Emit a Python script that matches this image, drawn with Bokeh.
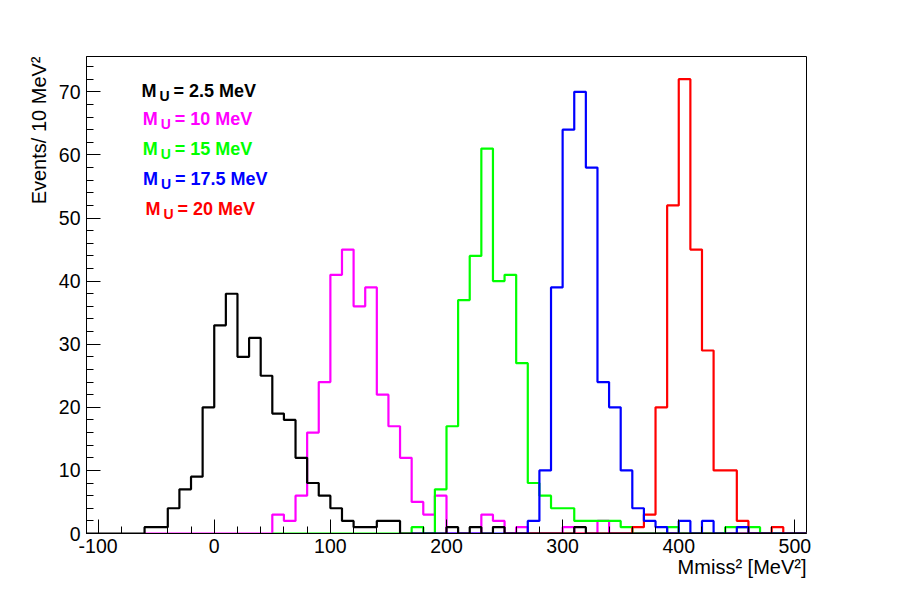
import numpy as np
from bokeh.plotting import figure
from bokeh.models import FixedTicker, Label, Title, Range1d
from bokeh.embed import file_html
from bokeh.resources import INLINE

# ---------------- data (counts per 10 MeV^2 bin) ----------------
bin_width = 10
x_lo, x_hi = -110, 510

legend_values = ["2.5 MeV", "10 MeV", "15 MeV", "17.5 MeV", "20 MeV"]

# first bin lower edge of the listed counts
black_first = -60
black_counts = [1, 1, 4, 7, 9, 20, 33, 38, 28, 31,
                25, 19, 18, 12, 8, 6, 4, 2, 1, 1,
                2, 2, 0, 0, 0, 0, 1, 0, 1, 0,
                1, 0, 0, 0, 0, 0, 0, 1]

magenta_first = 50
magenta_counts = [3, 2, 6, 16, 24, 41, 45, 36, 39, 22,
                  17, 12, 5, 3, 6, 0, 0, 0, 3, 2,
                  0, 1, 0, 0, 0, 1, 0, 0, 2]

green_first = 170
green_counts = [1, 0, 7, 17, 37, 44, 61, 40, 41, 27,
                8, 6, 4, 4, 2, 2, 2, 2, 1, 0,
                0, 0, 1, 0, 0, 0, 0, 1, 1, 1]

blue_first = 270
blue_counts = [2, 10, 39, 64, 70, 58, 24, 20, 10, 4,
               2, 1, 0, 2, 0, 2, 0, 0, 1]

red_first = 360
red_counts = [1, 3, 20, 52, 72, 45, 29, 10, 10, 2,
              0, 0, 1]

# lower edge from which each histogram line is drawn (zero bins before data)
draw_from = {"black": -110, "magenta": -60, "green": 50, "blue": 170, "red": 250}

x_major = [-100, 0, 100, 200, 300, 400, 500]
x_major_labels = ["-100", "0", "100", "200", "300", "400", "500"]
y_major = [0, 10, 20, 30, 40, 50, 60, 70]

# ---------------- figure ----------------
y_top = 72 * 1.05

p = figure(width=892, height=590,
           x_range=Range1d(x_lo, x_hi), y_range=Range1d(0, y_top),
           output_backend="svg", toolbar_location=None,
           min_border_left=86, min_border_right=86,
           min_border_top=56, min_border_bottom=57)
p.title.visible = False
p.background_fill_color = "white"
p.border_fill_color = "white"
p.outline_line_color = "black"
p.outline_line_width = 1
p.outline_line_alpha = 1.0
p.xgrid.visible = False
p.ygrid.visible = False

FONT = "Liberation Sans"


def hist_arrays(first, counts, start):
    n_bins = int(round((x_hi - start) / bin_width))
    edges = start + bin_width * np.arange(n_bins + 1)
    vals = np.zeros(n_bins + 1)
    i0 = int(round((first - start) / bin_width))
    vals[i0:i0 + len(counts)] = counts
    return edges, vals


order = [("magenta", magenta_first, magenta_counts, "#ff00ff"),
         ("green", green_first, green_counts, "#00ff00"),
         ("red", red_first, red_counts, "#ff0000"),
         ("blue", blue_first, blue_counts, "#0000ff"),
         ("black", black_first, black_counts, "#000000")]

for name, first, counts, col in order:
    ex, vy = hist_arrays(first, counts, draw_from[name])
    p.step(x=ex, y=vy, mode="after", line_color=col, line_width=2.2)

# ---------------- axes ----------------
p.xaxis.ticker = FixedTicker(ticks=x_major, minor_ticks=list(range(-100, 501, 20)))
p.xaxis.major_label_overrides = {v: s for v, s in zip(x_major, x_major_labels)}
p.yaxis.ticker = FixedTicker(ticks=y_major, minor_ticks=list(range(0, 76, 2)))
for ax in (p.xaxis[0], p.yaxis[0]):
    ax.major_tick_in = 14
    ax.major_tick_out = 0
    ax.minor_tick_in = 7
    ax.minor_tick_out = 0
    ax.axis_line_color = "black"
    ax.major_tick_line_color = "black"
    ax.minor_tick_line_color = "black"
    ax.major_label_text_font = FONT
    ax.major_label_text_font_size = "19.5px"
    ax.major_label_text_color = "black"
    ax.axis_label = None
p.xaxis.major_label_standoff = 5
p.yaxis.major_label_standoff = 6

xt = Title(text="Mmiss² [MeV²]", align="right", text_font=FONT,
           text_font_size="20px", text_font_style="normal", text_color="black",
           standoff=-3)
p.add_layout(xt, "below")
yt = Title(text="Events/ 10 MeV²", align="right", text_font=FONT,
           text_font_size="20px", text_font_style="normal", text_color="black",
           standoff=11)
p.add_layout(yt, "left")

# ---------------- legend (text labels) ----------------
leg_colors = ["#000000", "#ff00ff", "#00ff00", "#0000ff", "#ff0000"]
leg_x = [-62.7, -61.5, -61.5, -61.4, -59.3]
leg_y = [70.2, 65.7, 61.0, 56.2, 51.5]
sub_drop = 5 / 6.31

for txt, col, lx, ly in zip(legend_values, leg_colors, leg_x, leg_y):
    p.add_layout(Label(x=lx, y=ly, text="M", text_font=FONT, text_font_style="bold",
                       text_font_size="18px", text_color=col,
                       text_align="left", text_baseline="alphabetic"))
    p.add_layout(Label(x=lx, y=ly - sub_drop, x_offset=18, text="U", text_font=FONT,
                       text_font_style="bold", text_font_size="14px", text_color=col,
                       text_align="left", text_baseline="alphabetic"))
    p.add_layout(Label(x=lx, y=ly, x_offset=32, text="= " + txt, text_font=FONT,
                       text_font_style="bold", text_font_size="18px", text_color=col,
                       text_align="left", text_baseline="alphabetic"))

open("out.html", "w").write(file_html(p, INLINE))
